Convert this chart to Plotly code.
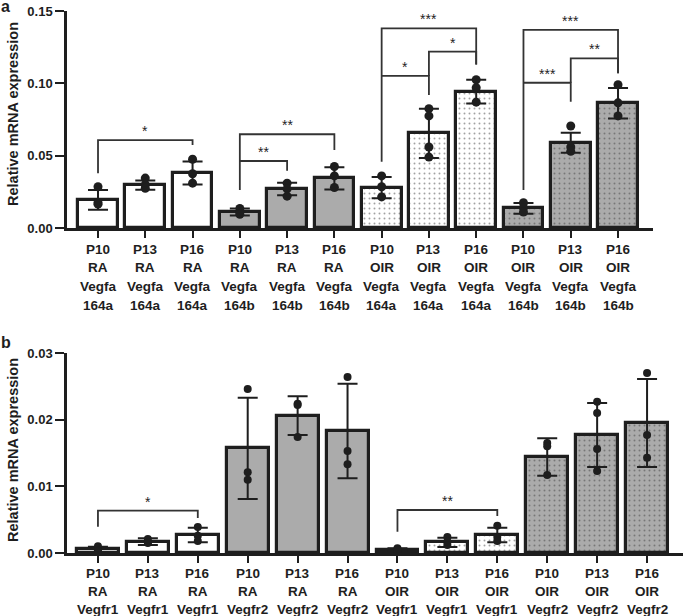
import plotly.graph_objects as go

# ---------------- data ----------------
a_labels = [
    ["P10", "RA", "Vegfa", "164a"], ["P13", "RA", "Vegfa", "164a"], ["P16", "RA", "Vegfa", "164a"],
    ["P10", "RA", "Vegfa", "164b"], ["P13", "RA", "Vegfa", "164b"], ["P16", "RA", "Vegfa", "164b"],
    ["P10", "OIR", "Vegfa", "164a"], ["P13", "OIR", "Vegfa", "164a"], ["P16", "OIR", "Vegfa", "164a"],
    ["P10", "OIR", "Vegfa", "164b"], ["P13", "OIR", "Vegfa", "164b"], ["P16", "OIR", "Vegfa", "164b"],
]
a_means = [0.0195, 0.0297, 0.038, 0.011, 0.027, 0.0343, 0.0279, 0.0654, 0.0942, 0.0136, 0.059, 0.0862]
a_sd = [0.0068, 0.0032, 0.008, 0.0024, 0.0043, 0.0077, 0.0074, 0.017, 0.0082, 0.0037, 0.0069, 0.0105]
a_points = [
    [0.0285, 0.0175, 0.0165], [0.0345, 0.030, 0.0275], [0.0475, 0.0375, 0.031],
    [0.0135, 0.011, 0.0095], [0.031, 0.027, 0.022], [0.0425, 0.036, 0.028],
    [0.036, 0.0285, 0.0215], [0.0825, 0.0775, 0.056, 0.049], [0.1025, 0.097, 0.087],
    [0.0175, 0.014, 0.011], [0.0705, 0.056, 0.053], [0.099, 0.0865, 0.0775],
]
# brackets: left idx, right idx, level, left-leg bottom, right-leg bottom, label
a_brackets = [
    [0, 2, 0.0608, 0.0378, 0.0574, "*"],
    [3, 5, 0.0648, 0.0263, 0.0539, "**"],
    [3, 4, 0.0463, 0.0463, 0.0396, "**"],
    [6, 8, 0.138, 0.0458, 0.1131, "***"],
    [6, 7, 0.1051, 0.1051, 0.0919, "*"],
    [7, 8, 0.1219, 0.1051, 0.1131, "*"],
    [9, 11, 0.1369, 0.0263, 0.1069, "***"],
    [9, 10, 0.1004, 0.1004, 0.0873, "***"],
    [10, 11, 0.1173, 0.1004, 0.1069, "**"],
]
a_yticks = [0.0, 0.05, 0.10, 0.15]

b_labels = [
    ["P10", "RA", "Vegfr1"], ["P13", "RA", "Vegfr1"], ["P16", "RA", "Vegfr1"],
    ["P10", "RA", "Vegfr2"], ["P13", "RA", "Vegfr2"], ["P16", "RA", "Vegfr2"],
    ["P10", "OIR", "Vegfr1"], ["P13", "OIR", "Vegfr1"], ["P16", "OIR", "Vegfr1"],
    ["P10", "OIR", "Vegfr2"], ["P13", "OIR", "Vegfr2"], ["P16", "OIR", "Vegfr2"],
]
b_means = [0.00055, 0.0017, 0.0027, 0.0157, 0.0206, 0.0183, 0.0005, 0.0016, 0.0027, 0.0144, 0.0177, 0.0195]
b_sd = [0.0004, 0.0005, 0.0011, 0.0076, 0.0029, 0.0071, 0.0002, 0.0007, 0.0011, 0.0028, 0.0048, 0.0066]
b_points = [
    [0.001, 0.0004, 0.0003], [0.0021, 0.0016, 0.0015], [0.0039, 0.0026, 0.0018],
    [0.0246, 0.0121, 0.011], [0.0224, 0.0222, 0.0174], [0.0264, 0.0153, 0.0133],
    [0.0007, 0.0005, 0.0004], [0.0024, 0.0017, 0.0012], [0.0041, 0.0024, 0.0018],
    [0.0165, 0.016, 0.0117], [0.0227, 0.021, 0.0156, 0.0123], [0.027, 0.0177, 0.0143],
]
b_brackets = [
    [0, 2, 0.00635, 0.00395, 0.00525, "*"],
    [6, 8, 0.00645, 0.0032, 0.00555, "**"],
]
b_yticks = [0.0, 0.01, 0.02, 0.03]

# styles per group (white, gray, dotted white, dotted gray)
fills = ["#ffffff"] * 3 + ["#ababab"] * 3 + ["#ffffff"] * 3 + ["#ababab"] * 3
patterns = [""] * 6 + ["."] * 6

W, H = 684, 616
INK = "#1e1e1e"
FONT = "Liberation Sans"

fig = go.Figure()


def add_panel(xa, ya, means, sd, points, brackets, dot):
    xs = list(range(len(means)))
    fig.add_trace(go.Bar(
        x=xs, y=means, width=0.84, xaxis=xa, yaxis=ya,
        marker=dict(color=fills, line=dict(color=INK, width=3.2),
                    pattern=dict(shape=patterns, fgcolor="#606060", fillmode="overlay",
                                 size=5, solidity=0.12)),
        error_y=dict(type="data", array=sd, visible=True, color=INK, thickness=2, width=10),
        showlegend=False, hoverinfo="skip"))
    px, py = [], []
    for i, pts in enumerate(points):
        for v in pts:
            px.append(i)
            py.append(v)
    fig.add_trace(go.Scatter(x=px, y=py, mode="markers", xaxis=xa, yaxis=ya,
                             marker=dict(color=INK, size=dot, line=dict(width=0)),
                             showlegend=False, hoverinfo="skip"))
    for l, r, lev, lb, rb, lab in brackets:
        fig.add_trace(go.Scatter(x=[l, l, r, r], y=[lb, lev, lev, rb], mode="lines",
                                 xaxis=xa, yaxis=ya, line=dict(color="#333333", width=1.8),
                                 showlegend=False, hoverinfo="skip"))
        fig.add_annotation(x=(l + r) / 2, y=lev, xref=xa, yref=ya, text=lab, showarrow=False,
                           yanchor="bottom", borderpad=0, font=dict(family=FONT, size=14, color=INK))


add_panel("x", "y", a_means, a_sd, a_points, a_brackets, 9)
add_panel("x2", "y2", b_means, b_sd, b_points, b_brackets, 8)

# x tick labels as stacked lines
for xa, ya, labels, first, step in [("x", "y", a_labels, 21, 18.8), ("x2", "y2", b_labels, 20, 18.2)]:
    for i, lines in enumerate(labels):
        for j, t in enumerate(lines):
            fig.add_annotation(x=i, y=0, xref=xa, yref=ya, text="<b>%s</b>" % t, showarrow=False,
                               yanchor="middle", yshift=-(first + step * j),
                               font=dict(family=FONT, size=13.5, color=INK))

axis_common = dict(showgrid=False, zeroline=False, showline=True, linecolor=INK, linewidth=2.5,
                   ticks="outside", tickcolor=INK, tickwidth=2, automargin=False,
                   tickfont=dict(family=FONT, size=13, color=INK))

fig.update_layout(
    template="none",
    width=W, height=H, margin=dict(l=0, r=0, t=0, b=0, pad=0, autoexpand=False),
    plot_bgcolor="white", paper_bgcolor="white", bargap=0,
    xaxis=dict(domain=[67 / W, 653 / W], range=[-0.656, 11.74], tickvals=list(range(12)),
               showticklabels=False, ticklen=7, anchor="y", **axis_common),
    yaxis=dict(domain=[1 - 228 / H, 1 - 11 / H], range=[0, 0.15], tickvals=a_yticks,
               ticktext=["<b>%.2f</b>" % v for v in a_yticks], ticklen=9, anchor="x", **axis_common),
    xaxis2=dict(domain=[67 / W, 683 / W], range=[-0.62, 11.72], tickvals=list(range(12)),
                showticklabels=False, ticklen=7, anchor="y2", **axis_common),
    yaxis2=dict(domain=[1 - 553 / H, 1 - 353 / H], range=[0, 0.03], tickvals=b_yticks,
                ticktext=["<b>%.2f</b>" % v for v in b_yticks], ticklen=9, anchor="x2", **axis_common),
)

# axis titles and panel letters
for yc in [114, 450]:
    fig.add_annotation(x=13 / W, y=1 - yc / H, xref="paper", yref="paper", textangle=-90,
                       xanchor="center", yanchor="middle",
                       text="<b>Relative mRNA expression</b>", showarrow=False,
                       font=dict(family=FONT, size=14.5, color=INK))
for letter, yc in [("a", 7), ("b", 342)]:
    fig.add_annotation(x=0, y=1 - yc / H, xref="paper", yref="paper", xanchor="left", yanchor="middle",
                       text="<b>%s</b>" % letter, showarrow=False, borderpad=0,
                       font=dict(family=FONT, size=16, color=INK))

post = "document.documentElement.style.margin='0';document.body.style.margin='0';"
fig.write_html("out.html", config={"displayModeBar": False}, post_script=post)
